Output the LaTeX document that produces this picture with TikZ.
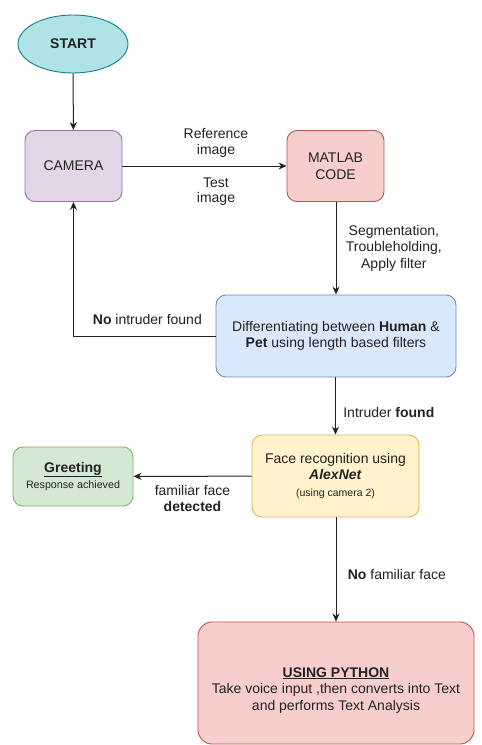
\documentclass[tikz,border=0pt]{standalone}
\usepackage{fontspec}
\setmainfont{Liberation Sans}
\usetikzlibrary{arrows.meta,shapes.geometric}

\definecolor{startfill}{HTML}{B0E3E6}
\definecolor{startline}{HTML}{0E8088}
\definecolor{purplefill}{HTML}{E1D5E7}
\definecolor{purpleline}{HTML}{9673A6}
\definecolor{redfill}{HTML}{F8CECC}
\definecolor{redline}{HTML}{B85450}
\definecolor{bluefill}{HTML}{DAE8FC}
\definecolor{blueline}{HTML}{6C8EBF}
\definecolor{yellowfill}{HTML}{FFF2CC}
\definecolor{yellowline}{HTML}{D6B656}
\definecolor{greenfill}{HTML}{D5E8D4}
\definecolor{greenline}{HTML}{82B366}
\definecolor{inkgray}{HTML}{222222}

\begin{document}
\begin{tikzpicture}[x=1pt,y=-1pt,
    font=\fontsize{14}{16.5}\selectfont, text=inkgray,
    box/.style={draw, rounded corners=10pt, line width=0.9pt, align=center, inner sep=2pt},
    flow/.style={-{Stealth[length=8pt,width=7pt]}, line width=1pt, draw=inkgray}]

    % fix the page
    \useasboundingbox (0,0) rectangle (482,745);

    % Draw nodes
    \node[draw=startline, fill=startfill, ellipse, line width=0.9pt,
          minimum width=110pt, minimum height=58pt] (start) at (73,44) {\textbf{START}};
    \node[box, draw=purpleline, fill=purplefill, minimum width=97pt, minimum height=71pt]
          (camera) at (73.5,166) {CAMERA};
    \node[box, draw=redline, fill=redfill, minimum width=97pt, minimum height=71pt]
          (matlab) at (335.5,166) {MATLAB\\CODE};
    \node[box, draw=blueline, fill=bluefill, minimum width=240pt, minimum height=82pt]
          (diff) at (336,336) {Differentiating between \textbf{Human} \&\\\textbf{Pet} using length based filters};
    \node[box, draw=yellowline, fill=yellowfill, minimum width=167pt, minimum height=82pt]
          (face) at (335.5,476) {Face recognition using\\\textbf{\textit{AlexNet}}\\{\fontsize{10.5}{14}\selectfont (using camera 2)}};
    \node[box, draw=greenline, fill=greenfill, minimum width=120pt, minimum height=59pt]
          (greet) at (73,476.5) {\textbf{\underline{Greeting}}\\{\fontsize{10.7}{13}\selectfont Response achieved}};
    \node[box, draw=redline, fill=redfill, rounded corners=14pt, minimum width=276pt, minimum height=122pt]
          (python) at (336,683) {\rule{0pt}{24pt}\textbf{\underline{USING PYTHON}}\\Take voice input ,then converts into Text\\and performs Text Analysis};

    % Draw connectors
    \draw[flow] (start) -- (camera);
    \draw[flow] (camera) -- (matlab)
        node[pos=0.57, above=5pt, align=center] {Reference\\[-1pt]image}
        node[pos=0.57, below=8pt, align=center] {Test\\[-1pt]image};
    \draw[flow] (matlab.south -| diff.north) -- (diff)
        node[midway, right=6pt, align=center] {Segmentation,\\Troubleholding,\\Apply filter};
    \draw[flow] (diff.west) -| (camera.south)
        node[pos=0.24, above=8pt] {\textbf{No} intruder found};
    \draw[flow] (diff.south -| face.north) -- (face)
        node[pos=0.62, right=4pt] {Intruder \textbf{found}};
    \draw[flow] (face) -- (greet)
        node[midway, below=5pt, align=center] {familiar face\\\textbf{detected}};
    \draw[flow] (face.south -| python.north) -- (python)
        node[pos=0.55, right=8pt] {\textbf{No} familiar face};
\end{tikzpicture}
\end{document}
